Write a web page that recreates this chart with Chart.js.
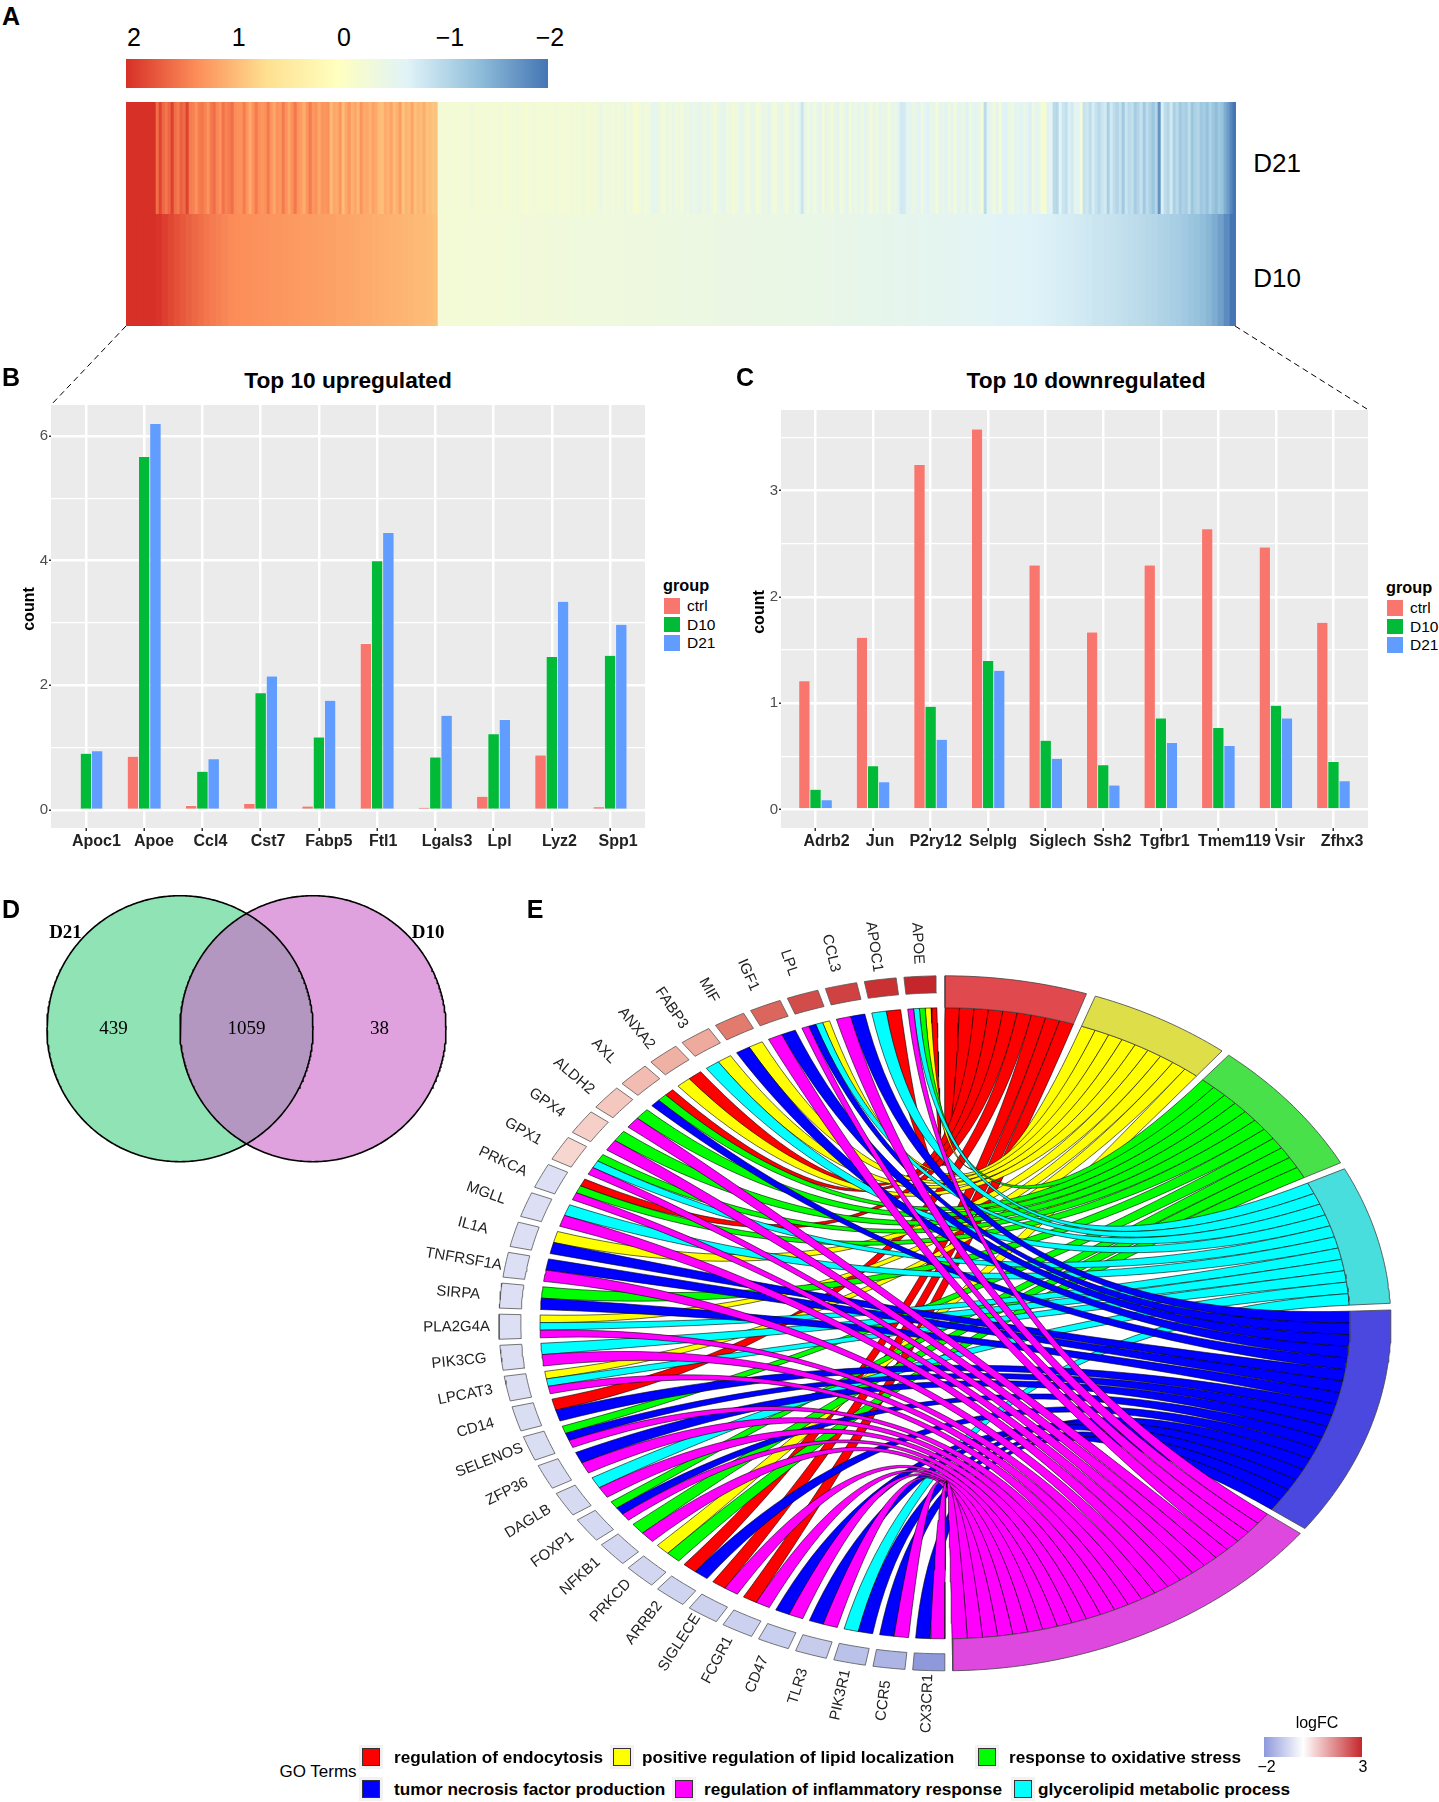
<!DOCTYPE html>
<html>
<head>
<meta charset="utf-8">
<title>Panels A-E</title>
<script src="https://cdn.jsdelivr.net/npm/chart.js@4"></script>
<style>
  html,body{margin:0;padding:0;background:#fff}
  #page{position:relative;width:1439px;height:1802px;overflow:hidden;font-family:"Liberation Sans",sans-serif;color:#000}
  #page canvas{position:absolute;display:block}
  .t{position:absolute;white-space:nowrap;transform:translate(-50%,-50%)}
  .l{position:absolute;white-space:nowrap;transform:translateY(-50%)}
  .b{position:absolute}
</style>
</head>
<body>
<div id="page">
  <svg width="1439" height="420" style="position:absolute;left:0;top:0">
    <line x1="126" y1="326" x2="51" y2="405" stroke="#000" stroke-width="1" stroke-dasharray="6 4"/>
    <line x1="1235" y1="326" x2="1367" y2="409" stroke="#000" stroke-width="1" stroke-dasharray="6 4"/>
  </svg>
</div>
<script>
// A: heatmap columns, read left to right off the picture
const heatD21 = [2,2,2,2,2,2,2,2,2,2,
  1.55,1.85,1.6,1.5,1.62,1.88,1.55,1.48,1.65,1.58,1.86,
  1.45,1.42,1.3,1.45,1.5,1.4,1.28,1.48,1.56,1.38,1.3,1.52,1.4,1.46,1.55,1.35,1.3,
  1.3,1.46,1.28,1.1,1.3,1.47,1.32,1.25,1.3,1.48,1.28,1.12,1.3,1.25,1.47,1.3,1.15,1.32,1.5,1.28,1.2,1.08,1.28,1.46,1.25,1.3,1.12,1.28,1.25,
  1.3,.98,1.13,1.1,1.28,.95,1.12,1.25,1.05,1.13,1,1.28,1.1,1.12,1.02,1.18,1.1,.96,.92,1.1,1.04,1.16,.95,1.05,1.2,.9,1.02,.98,1.15,.92,1,.96,1.08,.9,.95,.88,.9,
  -.3,-.26,-.24,-.28,-.25,-.3,-.23,-.25,-.3,-.24,-.28,-.34,-.26,-.23,-.28,-.21,-.25,-.3,-.26,-.24,-.32,-.28,-.22,-.26,-.3,-.25,-.34,-.28,-.24,-.22,-.3,-.26,-.32,-.23,-.28,-.25,-.3,-.21,-.26,-.34,-.28,-.24,-.3,-.23,-.36,-.26,-.3,-.25,-.38,-.28,-.24,-.32,-.26,-.36,-.46,-.3,
  -.34,-.38,-.3,-.4,-.28,-.36,-.44,-.3,-.38,-.23,-.2,-.34,-.4,-.3,-.36,-.52,-.56,-.42,-.34,-.3,-.44,-.36,-.48,-.32,-.4,-.28,-.48,-.38,
  -.54,-.44,-.5,-.58,-.38,-.46,-.52,-.4,-.28,-.44,-.5,-.58,-.36,-.42,-.26,-.34,-.48,-.56,-.4,-.3,-.45,-.52,-.25,-.36,-.5,-.42,-.58,-.36,-.3,-.46,-.54,-.4,-.28,-.44,-.5,-.36,-.58,
  -.84,
  -.5,-.36,-.56,-.3,-.46,-.6,-.28,-.5,-.42,-.24,-.52,-.58,-.3,-.44,-.62,-.24,-.5,-.4,-.56,-.34,-.58,-.46,-.26,-.54,-.36,-.6,-.42,-.5,-.3,-.56,-.44,-.6,
  -.8,-.78,
  -.55,-.6,-.42,-.5,-.64,-.36,-.58,-.68,-.44,-.52,-.3,-.6,-.48,-.66,-.38,-.56,-.28,-.62,-.5,-.42,-.68,-.34,-.56,-.6,-.46,-.3,
  -.96,
  -.6,-.5,-.3,-.58,-.24,-.64,-.68,-.44,-.36,-.6,-.52,-.66,-.42,-.6,-.7,-.38,-.62,-.5,
  -.22,-.2,
  -.68,-.6,-.98,-1.02,-.62,-.85,-.92,-.7,-.78,-.55,-.66,
  -.3,
  -.88,-.82,-.95,-.75,-.9,-1,-.85,-.78,-1.12,-.8,-.95,-1.05,-.9,-1.2,-.85,-1,-.92,-1.15,-1.05,-.88,-1.2,-.95,-1.1,-1.25,-1.05,
  -1.72,
  -.72,-.95,-1.05,-.8,-1.12,-.98,-1.2,-1.08,-1.15,-.95,-1.25,-1.1,-1.05,-1.22,-1.15,-1.3,-1.1,-1.25,-1.35,-1.2,-1.3,
  -1.5,-1.65,-1.85,-2];
const heatD10 = [2,2,2,2,2,1.97,1.9,1.83,1.77,1.71,1.65,1.6,1.55,1.5,1.46,1.42,1.38,1.35,1.33,1.32,1.31,1.3,1.29,1.28,1.27,1.26,1.25,1.24,1.23,1.22,1.21,1.2,1.19,1.18,1.17,1.15,1.14,1.13,1.12,1.1,1.09,1.08,1.06,1.05,1.04,1.02,1.01,1,.98,.97,.95,.93,
  -.26,-.26,-.27,-.27,-.27,-.28,-.28,-.28,-.29,-.29,-.29,-.3,-.3,-.3,-.31,-.31,-.31,-.32,-.32,-.33,-.33,-.33,-.34,-.34,-.34,-.35,-.35,-.35,-.36,-.36,-.36,-.37,-.37,-.37,-.38,-.38,-.38,-.39,-.39,-.39,-.4,-.4,-.4,-.41,
  -.41,-.41,-.42,-.42,-.42,-.43,-.43,-.43,-.44,-.44,-.44,-.45,-.45,-.45,-.46,-.46,-.46,-.47,-.47,-.47,-.48,-.48,-.49,-.49,-.5,-.5,-.51,-.51,-.52,-.52,-.53,-.53,-.54,-.54,-.55,-.55,-.56,-.56,-.57,-.57,-.58,
  -.58,-.59,-.6,-.6,-.61,-.62,-.62,-.63,-.64,-.64,-.65,-.66,-.66,-.67,
  -.68,-.69,-.7,-.72,-.73,-.75,-.76,-.78,-.8,-.82,-.84,-.85,-.87,-.89,-.91,-.93,-.95,
  -.97,-.99,-1.01,-1.04,-1.07,-1.1,-1.13,-1.16,-1.2,-1.24,-1.28,-1.33,-1.4,-1.5,-1.62,-1.8,-2];
const heatRamp = ['#d73027','#fc8d59','#fee090','#ffffbf','#e0f3f8','#91bfdb','#4575b4'];

// B: top 10 upregulated
const upGenes = ['Apoc1','Apoe','Ccl4','Cst7','Fabp5','Ftl1','Lgals3','Lpl','Lyz2','Spp1'];
const upCtrl = [.02,.86,.07,.1,.06,2.67,.04,.22,.88,.05];
const upD10 = [.91,5.67,.62,1.88,1.17,4.0,.85,1.22,2.46,2.48];
const upD21 = [.95,6.2,.82,2.15,1.76,4.45,1.52,1.45,3.35,2.98];
const upShift = [10.5,9.7,8,7.5,10,6,11.7,6,7.7,8];

// C: top 10 downregulated
const downGenes = ['Adrb2','Jun','P2ry12','Selplg','Siglech','Ssh2','Tgfbr1','Tmem119','Vsir','Zfhx3'];
const downCtrl = [1.21,1.62,3.245,3.58,2.3,1.67,2.3,2.64,2.47,1.76];
const downD10 = [.19,.41,.97,1.4,.65,.42,.86,.77,.98,.45];
const downD21 = [.09,.26,.66,1.31,.48,.23,.63,.6,.86,.27];
const downShift = [11,7,5,4.8,12,9,4,16,14,8.6];

const groupColors = ['#F8766D','#00BA38','#619CFF'];

// D: venn
const vennSets = ['D21','D10'];
const vennCounts = [439,1059,38];

// E: GO chord
const goTerms = ['regulation of endocytosis','positive regulation of lipid localization','response to oxidative stress','glycerolipid metabolic process','tumor necrosis factor production','regulation of inflammatory response'];
const termColors = ['#ff0000','#ffff00','#00ff00','#00ffff','#0000ff','#ff00ff'];
const termArcColors = ['#E04A4F','#DEDE48','#49E149','#48DEDE','#4A48DE','#DE48DE'];
const geneNames = ['APOE','APOC1','CCL3','LPL','IGF1','MIF','FABP3','ANXA2','AXL','ALDH2','GPX4','GPX1','PRKCA','MGLL','IL1A','TNFRSF1A','SIRPA','PLA2G4A','PIK3CG','LPCAT3','CD14','SELENOS','ZFP36','DAGLB','FOXP1','NFKB1','PRKCD','ARRB2','SIGLECE','FCGR1','CD47','TLR3','PIK3R1','CCR5','CX3CR1'];
const geneLogFC = [3,2.85,2.6,2.45,2.1,1.8,1.15,1.05,.9,.75,.65,.55,-.6,-.6,-.6,-.6,-.6,-.6,-.62,-.62,-.65,-.65,-.68,-.7,-.75,-.78,-.8,-.85,-.88,-.9,-.95,-1,-1.2,-1.45,-2];
// genes of each term, in the order of the picture (red, yellow, green, cyan, blue, magenta)
const redGenes = ['APOE','APOC1','ANXA2','AXL','PRKCA','CD14','ARRB2','SIGLECE','FCGR1'];
const yellowGenes = ['APOE','LPL','MIF','FABP3','ANXA2','IL1A','PLA2G4A','LPCAT3','PRKCD'];
const greenGenes = ['APOE','AXL','ALDH2','GPX4','GPX1','PRKCA','SIRPA','SELENOS','FOXP1','NFKB1','PRKCD'];
const cyanGenes = ['APOE','APOC1','LPL','FABP3','GPX1','MGLL','PLA2G4A','PIK3CG','LPCAT3','DAGLB','PIK3R1'];
const blueGenes = ['CCL3','LPL','IGF1','MIF','AXL','IL1A','TNFRSF1A','SIRPA','CD14','SELENOS','ZFP36','FOXP1','ARRB2','PIK3R1','TLR3','CD47','CCR5','CX3CR1'];
const magentaGenes = ['APOE','CCL3','LPL','IGF1','ALDH2','GPX4','GPX1','PRKCA','MGLL','TNFRSF1A','PLA2G4A','PIK3CG','LPCAT3','SELENOS','ZFP36','DAGLB','FOXP1','NFKB1','SIGLECE','FCGR1','CD47','TLR3','CCR5','CX3CR1'];
const termGenes = [redGenes,yellowGenes,greenGenes,cyanGenes,blueGenes,magentaGenes];

const page = document.getElementById('page');
const FONT = '"Liberation Sans",sans-serif';
Chart.defaults.animation = false;
Chart.defaults.responsive = false;
Chart.defaults.font.family = FONT;
Chart.defaults.plugins.legend.display = false;
Chart.defaults.plugins.tooltip.enabled = false;

function makeCanvas(x,y,w,h){
  const c = document.createElement('canvas');
  c.width = w; c.height = h;
  c.style.cssText = `left:${x}px;top:${y}px;width:${w}px;height:${h}px`;
  page.appendChild(c);
  return c;
}
function txt(s,x,y,size,extra){
  const d = document.createElement('div');
  d.className = 't'; d.textContent = s;
  d.style.cssText = `left:${x}px;top:${y}px;font-size:${size}px;${extra||''}`;
  page.appendChild(d);
  return d;
}
function ltxt(s,x,y,size,extra){
  const d = txt(s,x,y,size,extra); d.className = 'l'; return d;
}
function box(x,y,w,h,css){
  const d = document.createElement('div');
  d.className = 'b';
  d.style.cssText = `left:${x}px;top:${y}px;width:${w}px;height:${h}px;${css}`;
  page.appendChild(d);
}
function hex(c){ return [1,3,5].map(i=>parseInt(c.substr(i,2),16)); }
function mix(a,b,t){
  const A = hex(a), B = hex(b);
  return 'rgb('+A.map((v,i)=>Math.round(v+(B[i]-v)*t)).join(',')+')';
}

// shared helpers for closed curved shapes (venn, chord)
const RAD = Math.PI/180;
const pt = (t,r,cx)=>({x:(cx||0)+r*Math.cos(t*RAD),y:r*Math.sin(t*RAD)});
function arc(t1,t2,r,cx){
  const n = Math.max(2,Math.ceil(Math.abs(t1-t2)/.8));
  const out = [];
  for(let i=0;i<=n;i++) out.push(pt(t1+(t2-t1)*i/n,r,cx));
  return out;
}
function shape(points,fill,stroke,width){
  return {data:points,showLine:true,pointRadius:0,fill:'shape',backgroundColor:fill,borderColor:stroke,borderWidth:width,tension:0};
}

// ---- A ----
function heatColor(v){
  const p = (2-v)/4*(heatRamp.length-1);
  const i = Math.min(Math.floor(p),heatRamp.length-2);
  return mix(heatRamp[i],heatRamp[i+1],p-i);
}
function heatRow(name,vals,y){
  new Chart(makeCanvas(126,y,1110,112),{
    type:'bar',
    data:{
      labels:vals.map((_,i)=>i),
      datasets:[{label:name,data:vals.map(()=>1),backgroundColor:vals.map(heatColor),categoryPercentage:1,barPercentage:1,borderWidth:0}]
    },
    options:{layout:{padding:0},scales:{x:{display:false},y:{display:false,min:0,max:1}}}
  });
}
heatRow('D21',heatD21,102);
heatRow('D10',heatD10,214);
box(126,59,422,29,`background:linear-gradient(to right,${heatRamp.join(',')})`);
[['2',134],['1',238.6],['0',344],['\u22121',450],['\u22122',550]].forEach(a=>txt(a[0],a[1],37,25));
txt('D21',1277,163,26);
txt('D10',1277,278,26);

// ---- B, C ----
const panelBg = {id:'panelBg',beforeDraw(c){
  const a = c.chartArea, g = c.ctx;
  g.save(); g.fillStyle = '#EBEBEB'; g.fillRect(a.left,a.top,a.right-a.left,a.bottom-a.top); g.restore();
}};
function barPanel(cfg){
  const tickLabels = {id:'tickLabels',afterDraw(c){
    const g = c.ctx, sx = c.scales.x;
    g.save();
    g.font = 'bold 16px '+FONT; g.fillStyle = '#222'; g.textAlign = 'center'; g.textBaseline = 'middle';
    cfg.genes.forEach((n,i)=>g.fillText(n,sx.getPixelForValue(i+1)+cfg.shift[i],c.chartArea.bottom+14));
    g.restore();
  }};
  const ds = (label,vals,k)=>({label,data:vals.map((v,i)=>({x:i+1,y:v})),backgroundColor:groupColors[k],borderColor:'#fff',borderWidth:.4,categoryPercentage:.58,barPercentage:1});
  new Chart(makeCanvas(cfg.x,cfg.y,cfg.w,cfg.h),{
    type:'bar',
    data:{datasets:[ds('ctrl',cfg.ctrl,0),ds('D10',cfg.d10,1),ds('D21',cfg.d21,2)]},
    plugins:[panelBg,tickLabels],
    options:{
      layout:{padding:{top:cfg.padTop,right:cfg.padRight,left:0,bottom:0}},
      scales:{
        x:{
          type:'linear',min:.4,max:10.6,offset:false,
          afterBuildTicks(s){ s.ticks = cfg.genes.map((_,i)=>({value:i+1})); },
          afterFit(s){ s.height = cfg.axisH; s.paddingLeft = 0; s.paddingRight = 0; },
          border:{display:false},
          grid:{offset:false,color:'#fff',lineWidth:2.5,tickColor:'#333',tickWidth:1.5,tickLength:3},
          ticks:{display:false,autoSkip:false}
        },
        y:{
          min:cfg.yMin,max:cfg.yMax,
          afterFit(s){ s.width = cfg.axisW; s.paddingTop = 0; s.paddingBottom = 0; },
          border:{display:false},
          grid:{
            color:'#fff',
            lineWidth:ctx=>(ctx.tick && ctx.tick.value%cfg.major===0)?2.5:1.2,
            tickColor:ctx=>(ctx.tick && ctx.tick.value%cfg.major===0)?'#333':'rgba(0,0,0,0)',
            tickWidth:1.5,tickLength:2
          },
          ticks:{
            stepSize:cfg.major/2,includeBounds:false,autoSkip:false,padding:1,color:'#4d4d4d',font:{size:15},
            callback:v=>v%cfg.major===0?String(v):''
          }
        }
      }
    }
  });
  // title, axis name and key as text next to the canvas
  txt(cfg.title,cfg.titleX,380,22.7,'font-weight:bold');
  txt('count',cfg.countX,cfg.countY,16,'font-weight:bold;transform:translate(-50%,-50%) rotate(-90deg)');
  ltxt('group',cfg.keyX,cfg.keyY-21.5,16.3,'font-weight:bold');
  ['ctrl','D10','D21'].forEach((n,i)=>{
    box(cfg.keyX,cfg.keyY-9+i*18.6,17.5,17.5,`background:${groupColors[i]};box-sizing:border-box;border:.7px solid #fff`);
    ltxt(n,cfg.keyX+24,cfg.keyY+i*18.6,15.5);
  });
}
barPanel({x:20,y:400,w:640,h:460,padTop:5,padRight:15,axisW:31,axisH:32,genes:upGenes,shift:upShift,ctrl:upCtrl,d10:upD10,d21:upD21,yMin:-.29,yMax:6.5,major:2,
  title:'Top 10 upregulated',titleX:348,countX:29,countY:608.7,keyX:663,keyY:606});
barPanel({x:750,y:405,w:635,h:455,padTop:5,padRight:17,axisW:31,axisH:32,genes:downGenes,shift:downShift,ctrl:downCtrl,d10:downD10,d21:downD21,yMin:-.175,yMax:3.76,major:1,
  title:'Top 10 downregulated',titleX:1086,countX:759,countY:612,keyX:1386,keyY:608});

// ---- D ----
const vennText = {id:'vennText',afterDraw(c){
  const g = c.ctx, sx = c.scales.x, sy = c.scales.y;
  g.save();
  g.textAlign = 'center'; g.textBaseline = 'middle'; g.fillStyle = '#000';
  g.font = '19px "Liberation Serif",serif';
  vennCounts.forEach((n,i)=>g.fillText(String(n),sx.getPixelForValue(i-.5),sy.getPixelForValue(0)));
  g.font = 'bold 19px "Liberation Serif",serif';
  g.fillText(vennSets[0],sx.getPixelForValue(-.861),sy.getPixelForValue(.722));
  g.fillText(vennSets[1],sx.getPixelForValue(1.865),sy.getPixelForValue(.722));
  g.restore();
}};
const vennOutline = shape(arc(0,360,1,0),'rgba(0,0,0,0)','#000',1.6);
const vennOutline2 = shape(arc(0,360,1,1),'rgba(0,0,0,0)','#000',1.6);
const vennFillB = shape(arc(0,360,1,1),'rgba(203,100,200,.6)','rgba(0,0,0,0)',0);
const vennFillA = shape(arc(0,360,1,0),'#8FE3B4','rgba(0,0,0,0)',0);
[vennOutline,vennOutline2,vennFillB,vennFillA].forEach((d,i)=>{ d.order = i; });
new Chart(makeCanvas(0,880,480,300),{
  type:'scatter',
  data:{datasets:[vennOutline,vennOutline2,vennFillB,vennFillA]},
  plugins:[vennText],
  options:{
    layout:{padding:0},
    scales:{
      x:{display:false,min:-180/133,max:300/133},
      y:{display:false,min:-151.3/133,max:148.7/133}
    }
  }
});

// ---- E ----
const R_IN = .908, R_GENE = .951, R_LABEL = 1.095;
const GENE_START = 91.15, GENE_PITCH = 5.138, GENE_BOX = 4.138;
const termSpans = [[90,71.5],[70.3,51.6],[50.5,27.5],[26.4,3.3],[2.2,-36.2],[-37.2,-89]];
// quadratic curve through the centre between two rim points
function curve(a,b){
  const out = [];
  for(let i=1;i<40;i++){
    const t = i/40, u = (1-t)*(1-t), v = t*t;
    out.push({x:u*a.x+v*b.x,y:u*a.y+v*b.y});
  }
  return out;
}
function ring(t1,t2,r1,r2){
  const a = arc(t1,t2,r1).concat(arc(t2,t1,r2));
  a.push(a[0]);
  return a;
}
function logFcColor(v){
  if(v<0) return mix('#ffffff','#8E99DB',-v/2);
  return v<1.5 ? mix('#ffffff','#E9907F',v/1.5) : mix('#E9907F','#C5262B',(v-1.5)/1.5);
}
const chordSets = [];
const geneSpan = i=>[GENE_START+i*GENE_PITCH+GENE_BOX,GENE_START+i*GENE_PITCH];
termGenes.forEach((list,k)=>{
  const unit = (termSpans[k][0]-termSpans[k][1])/list.length;
  list.forEach((name,j)=>{
    const gi = geneNames.indexOf(name);
    const members = termGenes.map((l,m)=>l.includes(name)?m:-1).filter(m=>m>=0).reverse();
    const slot = members.indexOf(k), [gHi,gLo] = geneSpan(gi);
    const gw = (gHi-gLo)/members.length;
    const g1 = gHi-slot*gw, g2 = g1-gw;
    const w1 = termSpans[k][0]-j*unit, w2 = w1-unit;
    const pts = arc(g1,g2,R_IN)
      .concat(curve(pt(g2,R_IN),pt(w1,R_IN)))
      .concat(arc(w1,w2,R_IN))
      .concat(curve(pt(w2,R_IN),pt(g1,R_IN)));
    pts.push(pts[0]);
    chordSets.push(shape(pts,termColors[k],'#000',.6));
  });
});
termSpans.forEach((s,k)=>chordSets.push(shape(ring(s[0],s[1],R_IN,1),termArcColors[k],'#444',.8)));
geneNames.forEach((n,i)=>{
  const s = geneSpan(i);
  chordSets.push(shape(ring(s[0],s[1],R_GENE,1),logFcColor(geneLogFC[i]),'#555',.8));
});
chordSets.forEach((d,i)=>{ d.order = -i; });

const geneText = {id:'geneText',afterDraw(c){
  const g = c.ctx, sx = c.scales.x, sy = c.scales.y;
  g.save();
  g.font = '15px '+FONT; g.fillStyle = '#222'; g.textAlign = 'center'; g.textBaseline = 'middle';
  geneNames.forEach((n,i)=>{
    const s = geneSpan(i), t = (s[0]+s[1])/2, p = pt(t,R_LABEL);
    g.save();
    g.translate(sx.getPixelForValue(p.x),sy.getPixelForValue(p.y));
    g.rotate((180-t)*RAD);
    g.fillText(n,0,0);
    g.restore();
  });
  g.restore();
}};
new Chart(makeCanvas(400,900,1039,850),{
  type:'scatter',
  data:{datasets:chordSets},
  plugins:[geneText],
  options:{
    layout:{padding:0},
    scales:{
      x:{display:false,min:-545/446,max:494/446},
      y:{display:false,min:-426.7/347.5,max:423.3/347.5}
    }
  }
});

// legend of E
const legendRows = [
  [362,394,1757,0],[613,642,1757,1],[978,1009,1757,2],
  [362,394,1789,4],[675,704,1789,5],[1014,1038,1789,3]
];
txt('GO Terms',318,1772,17);
legendRows.forEach(r=>{
  const k = r[3];
  box(r[0]-3,r[2]-12,24,24,'background:#F2F2F2');
  box(r[0],r[2]-9,18,18,`background:${termColors[k]};box-sizing:border-box;border:.8px solid #333`);
  ltxt(goTerms[k],r[1],r[2],17.2,'font-weight:bold');
});
txt('logFC',1317,1723,16);
box(1264,1737,98,20,'background:linear-gradient(to right,#8E99DB,#fff 40%,#C5262B)');
txt('\u22122',1266.5,1767,16);
txt('3',1363,1767,16);

// panel letters
[['A',11,16],['B',11,377],['C',745,377],['D',11,909],['E',535,909]].forEach(a=>txt(a[0],a[1],a[2],25,'font-weight:bold'));
</script>
</body>
</html>
